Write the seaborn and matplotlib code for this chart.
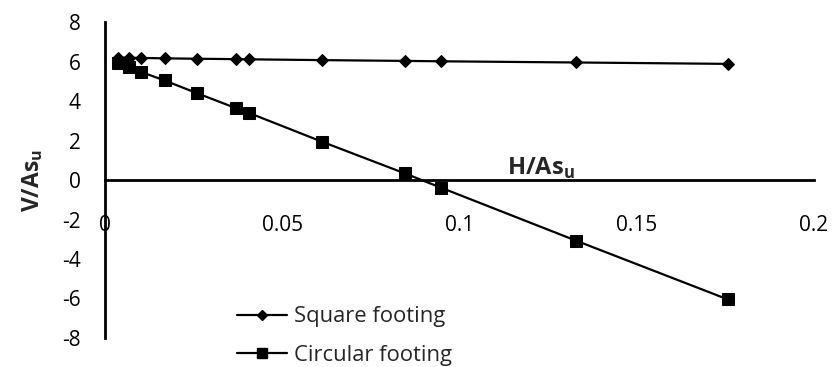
import matplotlib
matplotlib.use("Agg")
import matplotlib.pyplot as plt
import seaborn as sns
import pandas as pd
from matplotlib.lines import Line2D

# Data
h_as = [0.0038, 0.0068, 0.0102, 0.0168, 0.0259, 0.0369, 0.0407, 0.0612, 0.0845, 0.0948, 0.1330, 0.1756]
v_square = [6.20, 6.19, 6.18, 6.16, 6.14, 6.12, 6.11, 6.07, 6.03, 6.01, 5.95, 5.88]
v_circular = [5.92, 5.72, 5.47, 5.04, 4.40, 3.64, 3.39, 1.94, 0.34, -0.39, -3.08, -6.04]
series_names = ["Square footing", "Circular footing"]
x_ticks = [0, 0.05, 0.1, 0.15, 0.2]
x_tick_labels = ["0", "0.05", "0.1", "0.15", "0.2"]
y_ticks = [-8, -6, -4, -2, 0, 2, 4, 6, 8]

sns.set_style("white")
plt.rcParams["font.family"] = ["Open Sans", "DejaVu Sans"]
plt.rcParams["mathtext.fontset"] = "custom"
plt.rcParams["mathtext.rm"] = "Open Sans"
plt.rcParams["mathtext.bf"] = "Open Sans:bold"
plt.rcParams["axes.unicode_minus"] = False

df = pd.DataFrame({
    "H": h_as + h_as,
    "V": v_square + v_circular,
    "series": [series_names[0]] * len(h_as) + [series_names[1]] * len(h_as),
})

fig = plt.figure(figsize=(8.32, 3.67), dpi=100)
ax = fig.add_axes([105 / 832, 1 - 338 / 367, (814 - 105) / 832, (338 - 22) / 367])

sns.lineplot(data=df, x="H", y="V", hue="series", style="series",
             palette={series_names[0]: "black", series_names[1]: "black"},
             markers={series_names[0]: "D", series_names[1]: "s"},
             dashes=False, sort=False, ax=ax, linewidth=1.6,
             markeredgecolor="black", legend=False)
for line, ms in zip(ax.lines, [6.4, 9.0]):
    line.set_markersize(ms)

ax.set_xlim(0, 0.2)
ax.set_ylim(-8, 8)
ax.set_xticks(x_ticks)
ax.set_xticklabels(x_tick_labels)
ax.set_yticks(y_ticks)
ax.spines["top"].set_visible(False)
ax.spines["right"].set_visible(False)
ax.spines["bottom"].set_position(("data", 0))
for s in ["left", "bottom"]:
    ax.spines[s].set_linewidth(2.0)
    ax.spines[s].set_color("black")
ax.tick_params(axis="y", direction="out", length=6.5, width=1.5, pad=11, labelsize=15, colors="black")
ax.tick_params(axis="x", direction="out", length=5, width=1.5, pad=20, labelsize=15, colors="black")

ax.set_xlabel("")
ax.set_ylabel(r"V/As$_{\mathbf{u}}$", fontsize=16.5, fontweight="bold")
ax.yaxis.set_label_coords(-0.085, 0.5)
ax.text(0.1229, 0.25, r"H/As$_{\mathbf{u}}$", fontsize=17, fontweight="bold",
        ha="center", va="baseline")

handles = [
    Line2D([], [], color="black", lw=1.6, marker="D", markersize=5.5),
    Line2D([], [], color="black", lw=1.6, marker="s", markersize=7.5),
]
fig.legend(handles, series_names, loc="center left",
           bbox_to_anchor=(237 / 832, 1 - 336 / 367), frameon=False,
           fontsize=15.8, borderpad=0, borderaxespad=0, handlelength=2.3,
           handletextpad=0.3, labelspacing=0.8)

fig.savefig("out.png", dpi=100)
